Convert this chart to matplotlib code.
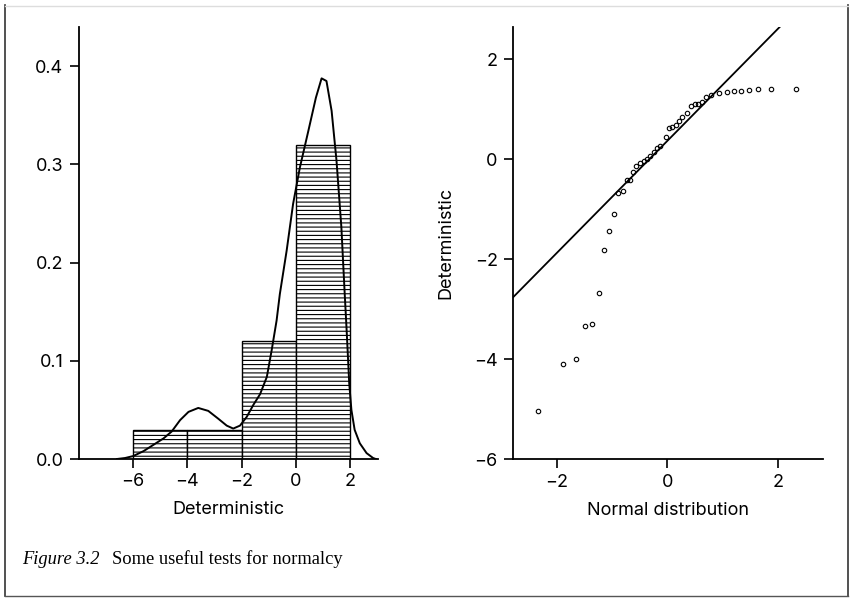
import numpy as np
import matplotlib
matplotlib.use("Agg")
import matplotlib.pyplot as plt
from matplotlib.lines import Line2D

plt.rcParams['font.family'] = ['Inter', 'DejaVu Sans']
plt.rcParams['hatch.linewidth'] = 0.8

# ── Histogram (density) ─────────────────────────────────
bin_edges = [-6, -4, -2, 0, 2]
bin_density = [0.03, 0.03, 0.12, 0.32]

# ── Kernel density curve ───────────────────────────────
kde_x = [-6.6, -6.3, -6.0, -5.62, -5.25, -4.88, -4.58, -4.27, -3.96, -3.60,
         -3.23, -2.86, -2.55, -2.31, -2.06, -1.81, -1.57, -1.32, -1.07, -0.89,
         -0.71, -0.59, -0.34, -0.10, 0.15, 0.46, 0.74, 0.95, 1.13, 1.32,
         1.50, 1.68, 1.80, 1.88, 1.97, 2.05, 2.17, 2.36, 2.61, 2.85, 2.95]
kde_y = [0.0, 0.001, 0.003, 0.008, 0.0145, 0.021, 0.028, 0.0396, 0.048, 0.052,
         0.049, 0.041, 0.034, 0.031, 0.034, 0.043, 0.055, 0.066, 0.0836, 0.111,
         0.141, 0.168, 0.212, 0.26, 0.297, 0.334, 0.368, 0.3877, 0.385, 0.3546,
         0.304, 0.236, 0.17, 0.128, 0.077, 0.050, 0.0297, 0.016, 0.006, 0.001, 0.0]

# ── Normal Q-Q plot ────────────────────────────────────
qq_theoretical = [-2.35, -1.89, -1.66, -1.49, -1.36, -1.24, -1.15, -1.05, -0.97, -0.89,
                  -0.81, -0.74, -0.67, -0.63, -0.57, -0.50, -0.43, -0.37, -0.31, -0.25,
                  -0.19, -0.13, -0.03, 0.03, 0.09, 0.15, 0.21, 0.27, 0.35, 0.42,
                  0.50, 0.56, 0.62, 0.70, 0.79, 0.94, 1.07, 1.21, 1.33, 1.48,
                  1.63, 1.88, 2.33]
qq_sample = [-5.03, -4.09, -3.99, -3.33, -3.30, -2.67, -1.82, -1.43, -1.10, -0.67,
             -0.63, -0.42, -0.42, -0.25, -0.13, -0.08, -0.04, 0.01, 0.07, 0.15,
             0.22, 0.27, 0.44, 0.62, 0.64, 0.69, 0.77, 0.84, 0.93, 1.07,
             1.11, 1.11, 1.15, 1.24, 1.29, 1.32, 1.35, 1.37, 1.37, 1.39,
             1.41, 1.41, 1.41]
qq_intercept = 0.37
qq_slope = 1.12


def style_axes(ax):
    ax.spines[['top', 'right']].set_visible(False)
    for s in ['left', 'bottom']:
        ax.spines[s].set_linewidth(1.3)
    ax.tick_params(axis='both', length=6.3, width=1.2, labelsize=13)
    ax.tick_params(axis='y', pad=5)
    ax.tick_params(axis='x', pad=4)


fig = plt.figure(figsize=(8.53, 6.0), dpi=100)

# left: histogram + density
ax1 = fig.add_axes([0.0926, 0.235, 0.3505, 0.72])
ax1.bar(bin_edges[:-1], bin_density, width=np.diff(bin_edges), align='edge',
        color='white', edgecolor='black', linewidth=1.0, hatch='----')
ax1.plot(kde_x, kde_y, color='black', lw=1.4)
ax1.set_xlim(-8, 3.03)
ax1.set_ylim(0, 0.44)
ax1.set_xticks([-6, -4, -2, 0, 2])
ax1.set_yticks([0.0, 0.1, 0.2, 0.3, 0.4])
ax1.set_xlabel('Deterministic', fontsize=13, labelpad=8)
style_axes(ax1)

# right: Q-Q plot
ax2 = fig.add_axes([0.6018, 0.2345, 0.3634, 0.721])
ax2.plot(qq_theoretical, qq_sample, 'o', mfc='none', mec='black', ms=3.2, mew=0.8)
ax2.axline((0, qq_intercept), slope=qq_slope, color='black', lw=1.3)
ax2.set_xlim(-2.79, 2.82)
ax2.set_ylim(-6, 2.65)
ax2.set_xticks([-2, 0, 2])
ax2.set_yticks([-6, -4, -2, 0, 2])
ax2.set_xlabel('Normal distribution', fontsize=13, labelpad=8)
ax2.set_ylabel('Deterministic', fontsize=13, labelpad=14)
style_axes(ax2)

# caption
fig.text(0.0258, 0.068, 'Figure 3.2', family='Liberation Serif', style='italic',
         fontsize=13.3, va='center', ha='left')
fig.text(0.131, 0.068, 'Some useful tests for normalcy', family='Liberation Serif',
         fontsize=13.3, va='center', ha='left')

# frame around figure
fig.add_artist(Line2D([0.006, 0.006], [0.007, 0.992], color='#333333', lw=1.2))
fig.add_artist(Line2D([0.994, 0.994], [0.007, 0.992], color='#333333', lw=1.2))
fig.add_artist(Line2D([0.006, 0.994], [0.007, 0.007], color='#555555', lw=1.0))
fig.add_artist(Line2D([0.006, 0.994], [0.99, 0.99], color='#dddddd', lw=1.0))

plt.savefig('out.png', dpi=100)
plt.close()
